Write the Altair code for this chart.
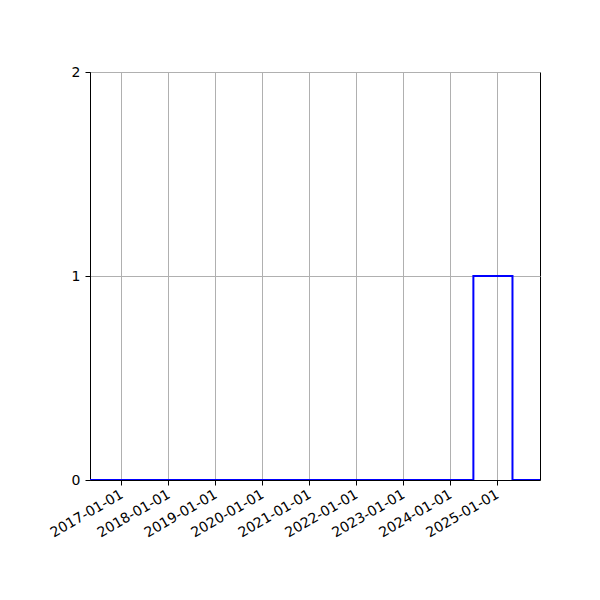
import altair as alt
import pandas as pd

# step series: count per date (steps after each date)
dates = ["2016-05-01", "2024-07-01", "2025-05-01", "2025-12-01"]
counts = [0, 1, 0, 0]

tick_dates = ["2017-01-01", "2018-01-01", "2019-01-01", "2020-01-01", "2021-01-01",
              "2022-01-01", "2023-01-01", "2024-01-01", "2025-01-01"]
y_max = 2

df = pd.DataFrame({"date": pd.to_datetime(dates), "count": counts})

x_axis = alt.Axis(
    values=[alt.DateTime(year=int(d[:4]), month=1, date=1) for d in tick_dates],
    format="%Y-%m-%d", labelAngle=-30, labelAlign="right", labelBaseline="top",
    labelOverlap=False, title=None, grid=True, gridColor="#b0b0b0", gridWidth=1,
    tickColor="black", tickSize=5, domainColor="black", labelPadding=2, labelOffset=-3,
    labelFont="DejaVu Sans", labelFontSize=14, labelColor="black",
)
y_axis = alt.Axis(
    tickCount=y_max, format="d", title=None, grid=True, gridColor="#b0b0b0",
    labelOverlap=False, tickColor="black", tickSize=5, domainColor="black",
    labelPadding=5, labelFont="DejaVu Sans", labelFontSize=14, labelColor="black",
)

chart = alt.Chart(df).mark_line(
    interpolate="step-after", color="#0000ff", strokeWidth=2, clip=True
).encode(
    x=alt.X("date:T", axis=x_axis,
            scale=alt.Scale(domain=[alt.DateTime(year=2016, month=5, date=3),
                                    alt.DateTime(year=2025, month=12, date=1)])),
    y=alt.Y("count:Q", axis=y_axis, scale=alt.Scale(domain=[0, y_max], nice=False)),
).properties(
    width=450, height=408,
    autosize=alt.AutoSizeParams(type="none"),
    padding={"left": 82, "top": 64, "right": 52, "bottom": 120},
).configure_view(
    stroke="black", strokeWidth=1
)

chart.save("out.html", embed_options={"renderer": "svg", "actions": False})
